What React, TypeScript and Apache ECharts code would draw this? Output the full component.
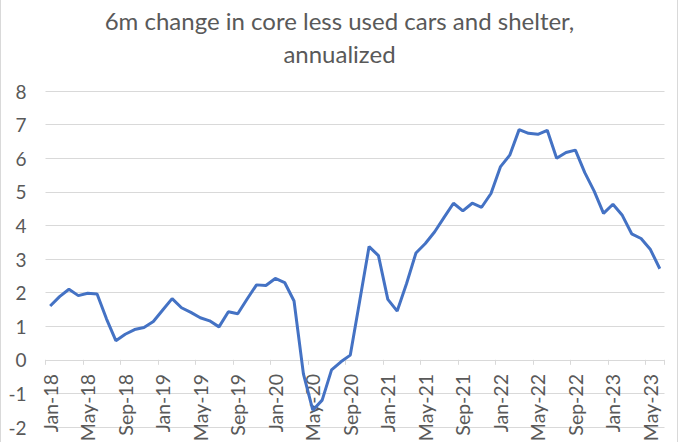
import React, { useEffect, useRef } from "react";
import * as echarts from "echarts";

const TITLE = "6m change in core less used cars and shelter,\nannualized";

const MONTHS = ["Jan", "Feb", "Mar", "Apr", "May", "Jun", "Jul", "Aug", "Sep", "Oct", "Nov", "Dec"];
const YEARS = ["18", "19", "20", "21", "22", "23"];
const LAST_MONTH_2023 = 6; // through Jun-23

const VALUES_2018 = [1.60, 1.88, 2.10, 1.91, 1.98, 1.96, 1.22, 0.57, 0.76, 0.90, 0.96, 1.14];
const VALUES_2019 = [1.48, 1.82, 1.55, 1.41, 1.25, 1.16, 0.98, 1.43, 1.37, 1.81, 2.23, 2.21];
const VALUES_2020 = [2.42, 2.30, 1.75, -0.42, -1.50, -1.20, -0.30, -0.06, 0.14, 1.75, 3.37, 3.10];
const VALUES_2021 = [1.80, 1.45, 2.27, 3.18, 3.46, 3.81, 4.24, 4.66, 4.43, 4.66, 4.54, 4.95];
const VALUES_2022 = [5.74, 6.09, 6.85, 6.74, 6.71, 6.83, 6.00, 6.17, 6.24, 5.57, 5.02, 4.36];
const VALUES_2023 = [4.63, 4.30, 3.75, 3.61, 3.28, 2.71];

const Y_MIN = -2;
const Y_MAX = 8;
const Y_STEP = 1;

function buildCategories(): string[] {
  const out: string[] = [];
  YEARS.forEach((y, yi) => {
    const n = yi === YEARS.length - 1 ? LAST_MONTH_2023 : 12;
    for (let m = 0; m < n; m++) out.push(`${MONTHS[m]}-${y}`);
  });
  return out;
}

export default function App() {
  const ref = useRef<HTMLDivElement>(null);

  useEffect(() => {
    document.body.style.margin = "0";
    if (!ref.current) return;
    const chart = echarts.init(ref.current, undefined, { renderer: "svg" });
    const categories = buildCategories();
    const values = [
      ...VALUES_2018,
      ...VALUES_2019,
      ...VALUES_2020,
      ...VALUES_2021,
      ...VALUES_2022,
      ...VALUES_2023,
    ];
    const font = "Lato, 'Open Sans', sans-serif";
    const textColor = "#595959";
    const gridColor = "#d9d9d9";

    chart.setOption({
      animation: false,
      backgroundColor: "#ffffff",
      title: {
        text: TITLE,
        left: "center",
        top: 4,
        padding: 0,
        textStyle: {
          fontFamily: font,
          fontSize: 24,
          fontWeight: "normal",
          color: textColor,
          lineHeight: 33,
        },
      },
      grid: {
        left: 45.5,
        right: 14.5,
        top: 91,
        bottom: 15,
        containLabel: false,
        outerBoundsMode: "none",
      },
      xAxis: {
        type: "category",
        data: categories,
        boundaryGap: true,
        axisLine: { show: true, onZero: true, lineStyle: { color: gridColor, width: 1 } },
        axisTick: { show: true, interval: 3, length: 5, lineStyle: { color: gridColor } },
        axisLabel: {
          interval: 3,
          rotate: 90,
          margin: -53,
          fontFamily: font,
          fontSize: 19.5,
          color: textColor,
          hideOverlap: false,
        },
        splitLine: { show: false },
      },
      yAxis: {
        type: "value",
        min: Y_MIN,
        max: Y_MAX,
        interval: Y_STEP,
        axisLine: { show: false },
        axisTick: { show: false },
        axisLabel: {
          margin: 19,
          fontFamily: font,
          fontSize: 19,
          color: textColor,
        },
        splitLine: { show: true, lineStyle: { color: gridColor, width: 1 } },
      },
      series: [
        {
          type: "line",
          data: values,
          symbol: "none",
          lineStyle: { color: "#4472C4", width: 3 },
          itemStyle: { color: "#4472C4" },
        },
      ],
      graphic: [
        { type: "line", shape: { x1: 0.5, y1: 0, x2: 0.5, y2: 442 }, style: { stroke: gridColor, lineWidth: 1 } },
        { type: "line", shape: { x1: 677.5, y1: 0, x2: 677.5, y2: 442 }, style: { stroke: gridColor, lineWidth: 1 } },
      ],
    });
    return () => chart.dispose();
  }, []);

  return <div ref={ref} style={{ width: 679, height: 442 }} />;
}
